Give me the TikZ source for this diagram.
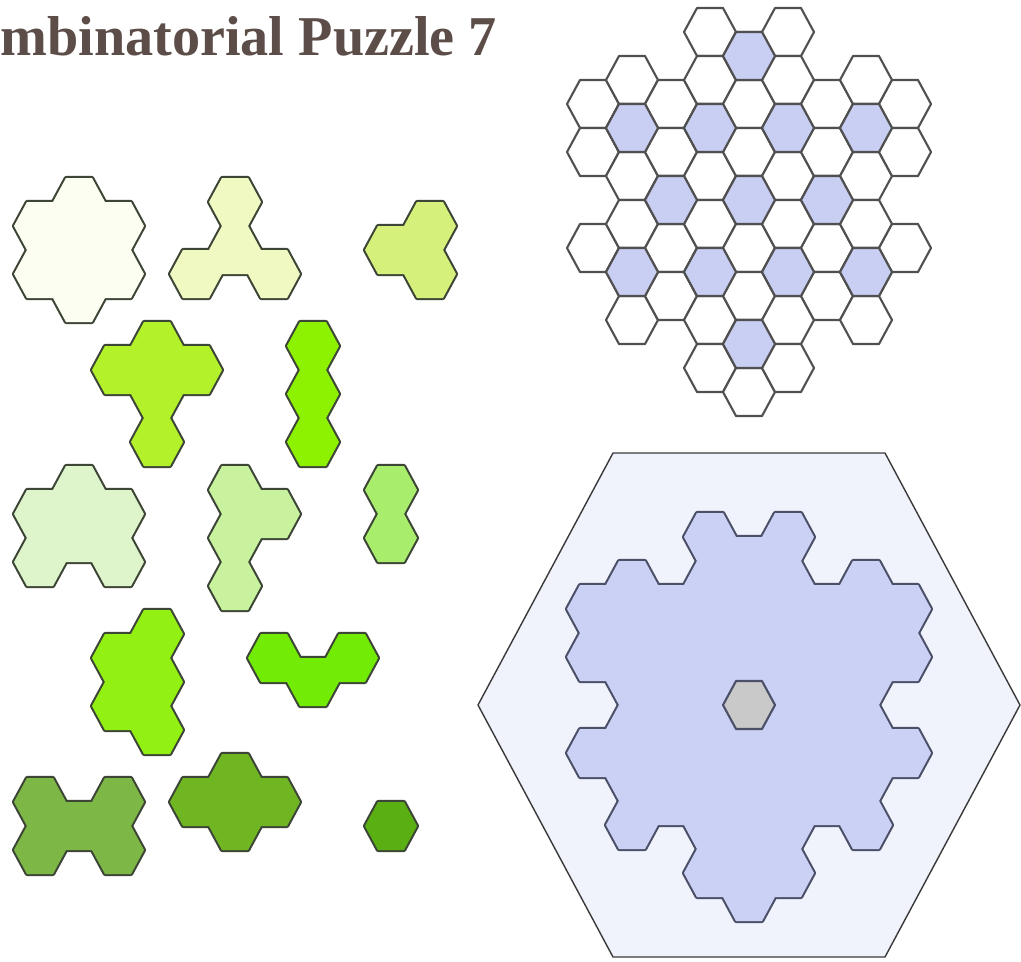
\documentclass[tikz,border=0pt]{standalone}
\usepackage{fontspec}
\setmainfont{Liberation Serif}

\definecolor{gridline}{HTML}{505050}
\definecolor{cellblue}{HTML}{C9CEF3}
\definecolor{edge}{HTML}{3D4636}
\definecolor{flakeblue}{HTML}{CBD1F4}
\definecolor{flakeline}{HTML}{4B5068}
\definecolor{framefill}{HTML}{F0F2FC}
\definecolor{frameline}{HTML}{3A3A3A}
\definecolor{holegrey}{HTML}{C9C9C9}
\definecolor{titlebrown}{HTML}{5C4D48}
\definecolor{pa}{HTML}{FDFEF2}
\definecolor{pb}{HTML}{F1F9C3}
\definecolor{pc}{HTML}{D5F17C}
\definecolor{pd}{HTML}{B3F12B}
\definecolor{pe}{HTML}{8DF102}
\definecolor{pf}{HTML}{DEF5CB}
\definecolor{pg}{HTML}{C9F29F}
\definecolor{ph}{HTML}{A8EE6C}
\definecolor{pi}{HTML}{92F112}
\definecolor{pj}{HTML}{72EC04}
\definecolor{pk}{HTML}{7DB746}
\definecolor{pl}{HTML}{6FB622}
\definecolor{pm}{HTML}{5AAF12}

% one flat-topped cell, centre given in pixels
\newcommand{\hexcell}[2]{(#1-13,#2-24) -- ++(26,0) -- ++(13,24) -- ++(-13,24) -- ++(-26,0) -- ++(-13,-24) -- cycle}
\newcommand{\polyhex}[2]{\path[piece, fill=#1] \foreach \x/\y in {#2} {\hexcell{\x}{\y}};}
% board: column / centres of its cells
\newcommand{\boardcells}{0/{104,152,248}, 1/{80,128,176,224,272,320}, 2/{104,152,200,248,296},
  3/{32,80,128,176,224,272,320,368}, 4/{56,104,152,200,248,296,344,392},
  5/{32,80,128,176,224,272,320,368}, 6/{104,152,200,248,296}, 7/{80,128,176,224,272,320},
  8/{104,152,248}}

\begin{document}
\begin{tikzpicture}[x=0.02cm, y=-0.02cm,
    gridcell/.style={draw=gridline, fill=white, line width=1.2pt, line join=round},
    bluecell/.style={gridcell, fill=cellblue},
    piece/.style={preaction={draw=edge, line width=2.4pt, line join=round}},
    flake/.style={preaction={draw=flakeline, line width=2.4pt, line join=round}, fill=flakeblue},
    frame/.style={draw=frameline, fill=framefill, line width=0.8pt, line join=round},
    hole/.style={draw=flakeline, fill=holegrey, line width=1.2pt, line join=round},
    title/.style={text=titlebrown, font=\bfseries\fontsize{32}{36}\selectfont, inner sep=0pt}
  ]
  \useasboundingbox (0,0) rectangle (1021,961);

  \node[title, anchor=base west] (title) at (0,55) {mbinatorial Puzzle 7};

  % board
  \foreach \c/\ys in \boardcells
    \foreach \y in \ys {\draw[gridcell] \hexcell{593+39*\c}{\y};}
  \foreach \c/\y in {4/56, 1/128, 3/128, 5/128, 7/128, 2/200, 4/200, 6/200,
                     1/272, 3/272, 5/272, 7/272, 4/344}
    \draw[bluecell] \hexcell{593+39*\c}{\y};

  % frame with the snowflake
  \draw[frame] (478,705) -- (613,453) -- (885,453) -- (1020,705) -- (885,957) -- (613,957) -- cycle;
  \path[flake] \foreach \c/\ys in \boardcells {\foreach \y in \ys {\hexcell{593+39*\c}{\y+505}}};
  \draw[hole] \hexcell{749}{705};

  % pieces
  \polyhex{pa}{79/250, 79/202, 79/298, 40/226, 118/226, 40/274, 118/274}
  \polyhex{pb}{235/250, 235/202, 196/274, 274/274}
  \polyhex{pc}{391/250, 430/226, 430/274}
  \polyhex{pd}{157/346, 118/370, 196/370, 157/394, 157/442}
  \polyhex{pe}{313/346, 313/394, 313/442}
  \polyhex{pf}{79/490, 40/514, 118/514, 79/538, 40/562, 118/562}
  \polyhex{pg}{235/490, 274/514, 235/538, 235/586}
  \polyhex{ph}{391/490, 391/538}
  \polyhex{pi}{157/634, 157/682, 157/730, 118/658, 118/706}
  \polyhex{pj}{274/658, 313/682, 352/658}
  \polyhex{pk}{40/802, 118/802, 79/826, 40/850, 118/850}
  \polyhex{pl}{235/778, 196/802, 274/802, 235/826}
  \polyhex{pm}{391/826}
\end{tikzpicture}
\end{document}
